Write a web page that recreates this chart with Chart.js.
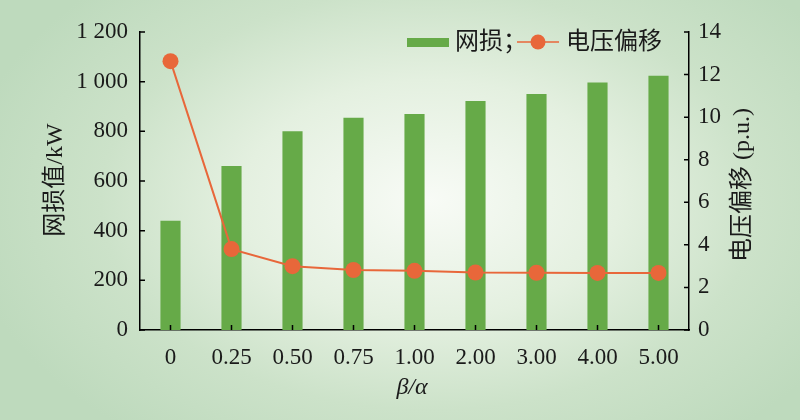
<!DOCTYPE html>
<html>
<head>
<meta charset="utf-8">
<script src="https://cdn.jsdelivr.net/npm/chart.js@4"></script>
<style>
    html, body { margin: 0; padding: 0; }
    body {
        width: 800px;
        height: 420px;
        background: radial-gradient(ellipse 470px 300px at 430px 200px, #f8fbf6 0%, #e4f0e0 40%, #cce2c9 70%, #bedabd 100%);
    }
    #wrap { position: relative; width: 800px; height: 420px; }
</style>
</head>
<body>
<div id="wrap"><canvas id="chartCanvas" width="800" height="420"></canvas></div>
<script>
// data
const ratios = ['0', '0.25', '0.50', '0.75', '1.00', '2.00', '3.00', '4.00', '5.00'];
const netLoss = [440, 660, 800, 855, 870, 922, 950, 997, 1024];         // kW
const voltageDev = [12.63, 3.8, 3.0, 2.82, 2.78, 2.7, 2.69, 2.68, 2.68]; // p.u.

const serif = '"Liberation Serif", "Noto Sans CJK SC", serif';
const green = '#66aa48';
const orange = '#e8673a';
const ink = '#1a1a1a';

// inner ticks, axis titles and the in-plot legend
const decorations = {
    id: 'decorations',
    afterDatasetsDraw(chart) {
        const c = chart.ctx;
        const area = chart.chartArea;
        const x = chart.scales.x, y = chart.scales.y, y1 = chart.scales.y1;
        const t = 5;
        c.save();
        c.strokeStyle = '#000';
        c.lineWidth = 1.5;
        c.beginPath();
        y.ticks.forEach(tk => {
            const p = y.getPixelForValue(tk.value);
            c.moveTo(area.left, p); c.lineTo(area.left + t, p);
        });
        y1.ticks.forEach(tk => {
            const p = y1.getPixelForValue(tk.value);
            c.moveTo(area.right, p); c.lineTo(area.right - t, p);
        });
        ratios.forEach((r, i) => {
            const p = x.getPixelForValue(i);
            c.moveTo(p, area.bottom); c.lineTo(p, area.bottom - t);
        });
        c.stroke();

        c.fillStyle = ink;
        c.font = '24px ' + serif;
        c.textAlign = 'center';
        c.textBaseline = 'middle';

        c.save();
        c.translate(56, 180);
        c.rotate(-Math.PI / 2);
        c.fillText('网损值/kW', 0, 0);
        c.restore();

        c.save();
        c.translate(743, 185);
        c.rotate(-Math.PI / 2);
        c.fillText('电压偏移 (p.u.)', 0, 0);
        c.restore();

        c.font = 'italic 24px ' + serif;
        c.fillText('β/α', 412, 388);

        // legend
        const ds = chart.data.datasets;
        c.textAlign = 'left';
        c.font = '24px ' + serif;
        c.fillStyle = ds[1].backgroundColor;
        c.fillRect(407, 38, 42, 9);
        c.fillStyle = ink;
        c.fillText(ds[1].label + '；', 455, 43);
        c.strokeStyle = ds[0].borderColor;
        c.lineWidth = 1.5;
        c.beginPath();
        c.moveTo(517, 42); c.lineTo(559, 42);
        c.stroke();
        c.fillStyle = ds[0].pointBackgroundColor;
        c.beginPath();
        c.arc(538, 42, 7.5, 0, Math.PI * 2);
        c.fill();
        c.fillStyle = ink;
        c.fillText(ds[0].label, 566, 43);
        c.restore();
    }
};

const ctx = document.getElementById('chartCanvas').getContext('2d');

let chart = new Chart(ctx, {
    data: {
        labels: ratios,
        datasets: [{
            type: 'line',
            label: '电压偏移',
            data: voltageDev,
            yAxisID: 'y1',
            borderColor: orange,
            borderWidth: 2,
            pointBackgroundColor: orange,
            pointBorderWidth: 0,
            pointRadius: 8,
            order: 0
        }, {
            type: 'bar',
            label: '网损',
            data: netLoss,
            yAxisID: 'y',
            backgroundColor: green,
            barPercentage: 0.33,
            categoryPercentage: 1,
            order: 1
        }]
    },
    options: {
        responsive: false,
        animation: false,
        layout: { padding: { top: 32, left: 0, right: 0, bottom: 0 } },
        plugins: { legend: { display: false }, tooltip: { enabled: false } },
        scales: {
            x: {
                grid: { display: false },
                border: { display: true, color: '#000', width: 1.5 },
                ticks: { color: ink, font: { family: serif, size: 23 }, padding: 6 },
                afterFit: s => { s.height = 90; }
            },
            y: {
                position: 'left',
                min: 0, max: 1200,
                grid: { display: false },
                border: { display: true, color: '#000', width: 1.5 },
                ticks: {
                    stepSize: 200,
                    color: ink,
                    font: { family: serif, size: 23 },
                    padding: 4,
                    callback: v => v >= 1000 ? Math.floor(v / 1000) + ' ' + String(v % 1000).padStart(3, '0') : String(v)
                },
                afterFit: s => { s.width = 140; }
            },
            y1: {
                position: 'right',
                min: 0, max: 14,
                grid: { display: false },
                border: { display: true, color: '#000', width: 1.5 },
                ticks: { stepSize: 2, color: ink, font: { family: serif, size: 23 }, padding: 1 },
                afterFit: s => { s.width = 111; }
            }
        }
    },
    plugins: [decorations]
});
</script>
</body>
</html>
